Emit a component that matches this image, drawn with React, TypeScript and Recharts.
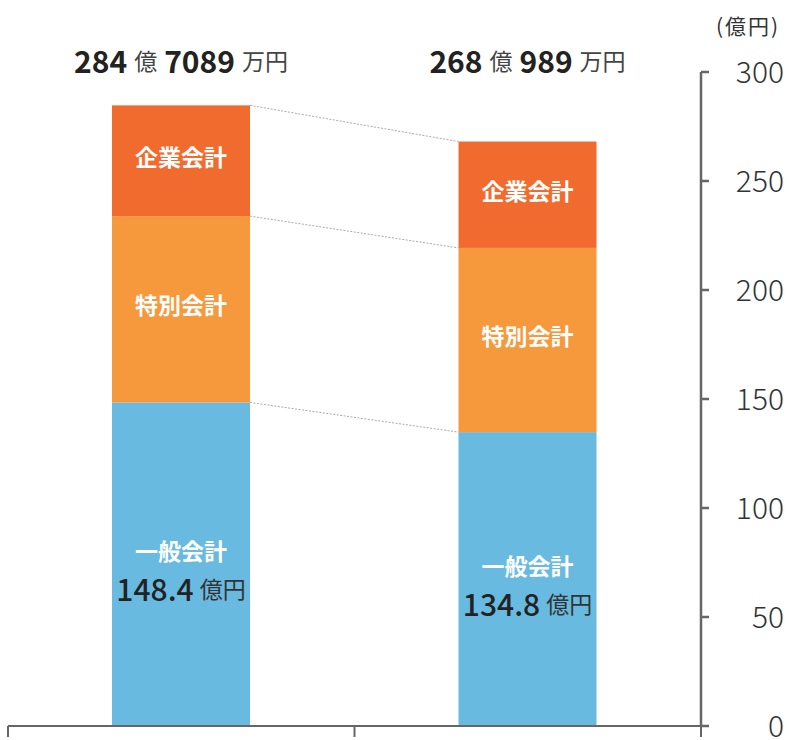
import { Bar, BarChart, XAxis, YAxis } from "recharts";

// two fiscal years, stacked by account type (億円)
const categories = ["前年度", "本年度"];
const generalValues = [148.4, 134.8];
const specialValues = [85.5, 84.5];
const enterpriseValues = [50.8, 48.8];
const generalLabels = ["148.4", "134.8"];
const totalOku = ["284", "268"];
const totalMan = ["7089", "989"];
const seriesNames = ["一般会計", "特別会計", "企業会計"];
const yTicks = [0, 50, 100, 150, 200, 250, 300];

const CHART_W = 789;
const CHART_H = 740;
const MARGIN = { top: 72, right: 0, left: 8, bottom: 0 };
const Y_AXIS_W = 88;
const BAND = (CHART_W - MARGIN.left - MARGIN.right - Y_AXIS_W) / categories.length;
const FONT = '"Noto Sans CJK JP", "Noto Sans", sans-serif';

const series = [
  { key: "general", values: generalValues, color: "#69BAE1" },
  { key: "special", values: specialValues, color: "#F6993D" },
  { key: "enterprise", values: enterpriseValues, color: "#F26B2E" },
];

const data = categories.map((name, i) => ({
  name,
  pos: i + 0.5,
  general: generalValues[i],
  special: specialValues[i],
  enterprise: enterpriseValues[i],
}));

// top of the stack for series s in bar i
const stackTop = (s: number, i: number) =>
  series.slice(0, s + 1).reduce((acc, ser) => acc + ser.values[i], 0);

function Segment(props: any) {
  const { x, y, width, height, payload, seriesIdx } = props;
  const i = categories.indexOf(payload.name);
  const ser = series[seriesIdx];
  const pxPerUnit = height / ser.values[i];
  const cx = x + width / 2;
  const cy = y + height / 2;

  let connector = null;
  if (i < categories.length - 1) {
    const y2 = y + (stackTop(seriesIdx, i) - stackTop(seriesIdx, i + 1)) * pxPerUnit;
    connector = (
      <line x1={x + width} y1={y} x2={x + BAND} y2={y2} stroke="#aaa" strokeWidth={1} strokeDasharray="2 1.5" />
    );
  }

  return (
    <g>
      <rect x={x} y={y} width={width} height={height} fill={ser.color} />
      {connector}
      {seriesIdx === 0 ? (
        <g fontFamily={FONT}>
          <text x={cx} y={cy - 14} textAnchor="middle" dominantBaseline="central" fill="#fff" fontSize={23} fontWeight={700}>
            {seriesNames[seriesIdx]}
          </text>
          <text x={cx} y={cy + 24} textAnchor="middle" dominantBaseline="central" fill="#222">
            <tspan fontSize={30} fontWeight={500}>{generalLabels[i]}</tspan>
            <tspan fontSize={23} fill="#333" dx={6}>億円</tspan>
          </text>
        </g>
      ) : (
        <text x={cx} y={cy - 5} textAnchor="middle" dominantBaseline="central" fill="#fff" fontSize={23} fontWeight={700} fontFamily={FONT}>
          {seriesNames[seriesIdx]}
        </text>
      )}
      {seriesIdx === series.length - 1 ? (
        <text x={cx} y={MARGIN.top - 12} textAnchor="middle" dominantBaseline="central" fontFamily={FONT} fill="#222">
          <tspan fontSize={30} fontWeight={700}>{totalOku[i]}</tspan>
          <tspan fontSize={23} fill="#444" dx={7}>億</tspan>
          <tspan fontSize={30} fontWeight={700} dx={7}>{totalMan[i]}</tspan>
          <tspan fontSize={23} fill="#444" dx={7}>万円</tspan>
        </text>
      ) : null}
    </g>
  );
}

function YTick({ x = 0, y = 0, payload }: any) {
  return (
    <text x={x + 73} y={y - 2} textAnchor="end" dominantBaseline="central" fontSize={30} fontWeight={300} fill="#333" fontFamily={FONT}>
      {payload?.value}
    </text>
  );
}

export default function App() {
  return (
    <div style={{ position: "absolute", left: 0, top: 0, width: CHART_W, height: CHART_H, background: "#fff" }}>
      <div
        style={{
          position: "absolute",
          left: 716,
          top: 10,
          fontSize: 21,
          letterSpacing: 2,
          color: "#333",
          fontFamily: FONT,
          whiteSpace: "nowrap",
        }}
      >
        (億円)
      </div>
      <BarChart width={CHART_W} height={CHART_H} data={data} margin={MARGIN} style={{ overflow: "visible" }}>
        <XAxis
          type="number"
          dataKey="pos"
          domain={[0, categories.length]}
          ticks={[0, 1, 2]}
          tick={() => <g />}
          tickSize={11}
          height={14}
          axisLine={{ stroke: "#666", strokeWidth: 2 }}
          tickLine={{ stroke: "#666", strokeWidth: 2 }}
        />
        <YAxis
          orientation="right"
          width={Y_AXIS_W}
          domain={[0, 300]}
          ticks={yTicks}
          tickSize={8}
          tick={<YTick />}
          axisLine={{ stroke: "#666", strokeWidth: 2.5 }}
          tickLine={{ stroke: "#666", strokeWidth: 2.5 }}
        />
        {series.map((ser, s) => (
          <Bar
            key={ser.key}
            dataKey={ser.key}
            stackId="total"
            barSize={138}
            fill={ser.color}
            isAnimationActive={false}
            shape={(p: any) => <Segment {...p} seriesIdx={s} />}
          />
        ))}
      </BarChart>
    </div>
  );
}
